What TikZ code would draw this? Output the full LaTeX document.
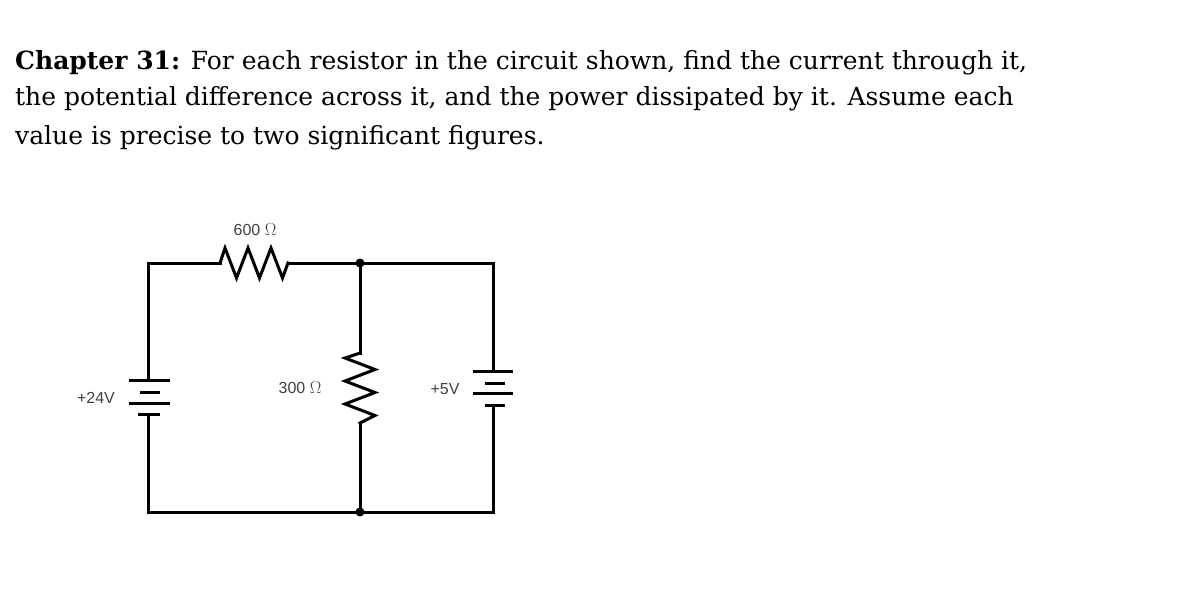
\documentclass[tikz,border=0pt]{standalone}
\usepackage{fontspec}
\setmainfont{DejaVu Serif}
\newfontfamily\lab{Liberation Sans}
\begin{document}
\begin{tikzpicture}[x=1pt,y=-1pt,
  wire/.style={line width=3pt,line join=miter,line cap=rect},
  dot/.style={circle,fill=black,inner sep=0pt,minimum size=9pt},
  txt/.style={anchor=base west,inner sep=0pt,font=\fontsize{25}{30}\selectfont},
  lbl/.style={inner sep=0pt,text=black!75,font=\lab\fontsize{16}{18}\selectfont}]
\useasboundingbox (0,0) rectangle (1186,610);
\node[txt] (t1) at (15,70) {\textbf{Chapter 31:} For each resistor in the circuit shown, find the current through it,};
\node[txt] (t2) at (15,106) {the potential difference across it, and the power dissipated by it. Assume each};
\node[txt] (t3) at (15,144) {value is precise to two significant figures.};
% nodes
\coordinate (tl) at (148,263);
\coordinate (bl) at (148,512);
\node[dot] (jt) at (360,263) {};
\node[dot] (jb) at (360,512) {};
\coordinate (tr) at (493,263);
\coordinate (br) at (493,512);
\coordinate (r1a) at (220,263);
\coordinate (r1b) at (288,263);
\coordinate (r2a) at (360,353);
\coordinate (r2b) at (360,423);
\coordinate (b1t) at (148,380);
\coordinate (b1b) at (148,414);
\coordinate (b2t) at (493,371);
\coordinate (b2b) at (493,405);
% wires
\draw[wire] (b1t) -- (tl) -- (r1a);
\draw[wire] (r1a) -- ++(5,-15) -- ++(11.5,30) -- ++(11.5,-30) -- ++(11.5,30) -- ++(11.5,-30) -- ++(11.5,30) -- (r1b);
\draw[wire] (r1b) -- (jt) -- (tr) -- (b2t);
\draw[wire] (jt) -- (r2a);
\draw[wire] (r2a) -- ++(-15,5) -- ++(30,11.5) -- ++(-30,11.5) -- ++(30,11.5) -- ++(-30,11.5) -- ++(30,11.5) -- (r2b);
\draw[wire] (r2b) -- (jb);
\draw[wire] (b1b) -- (bl) -- (jb) -- (br) -- (b2b);
% battery plates
\draw[wire,line cap=butt] (129,380) -- (170,380) (140,392) -- (160,392) (129,403) -- (170,403) (138,414) -- (160,414);
\draw[wire,line cap=butt] (473,371) -- (513,371) (485,383) -- (505,383) (473,393) -- (513,393) (485,405) -- (505,405);
% labels
\node[lbl] (l600) at (255,230) {600 $\Omega$};
\node[lbl] (l300) at (300,388) {300 $\Omega$};
\node[lbl] (l24) at (96,398) {+24V};
\node[lbl] (l5) at (445,389) {+5V};
\end{tikzpicture}
\end{document}
